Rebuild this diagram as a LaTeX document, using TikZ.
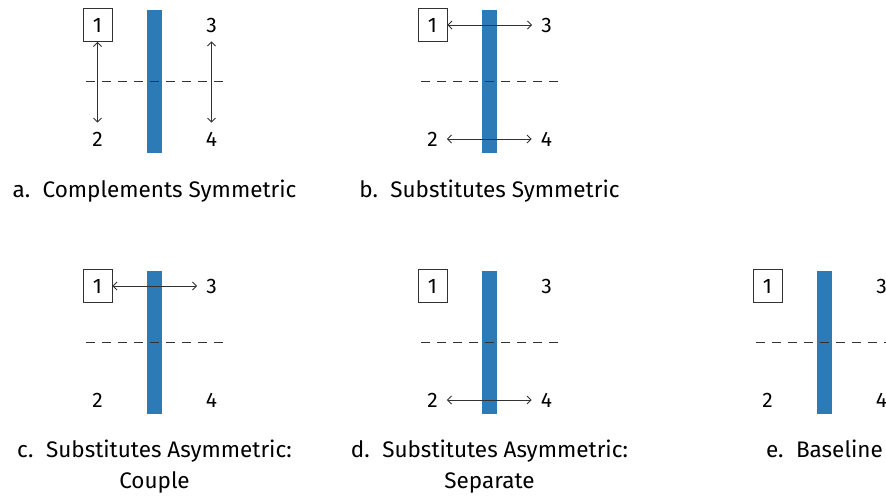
\documentclass[tikz,border=0pt]{standalone}
\usepackage{fontspec}
\setmainfont{Fira Sans}
\usetikzlibrary{arrows.meta}
\definecolor{barblue}{RGB}{44,123,182}
\definecolor{linegray}{RGB}{50,50,50}
\tikzset{
  barrect/.style={fill=barblue, draw=none},
  midline/.style={draw=linegray, line width=0.9pt, dash pattern=on 9pt off 7pt},
  boxnum/.style={draw=linegray, line width=0.9pt, minimum width=29pt, minimum height=33pt, inner sep=0pt, font=\fontsize{21}{21}\selectfont},
  plainnum/.style={inner sep=9pt, font=\fontsize{21}{21}\selectfont},
  link/.style={draw=linegray, line width=0.9pt, {Straight Barb[length=4pt,width=8pt]}-{Straight Barb[length=4pt,width=8pt]}},
  caplabel/.style={align=center, font=\fontsize{22.5}{31}\selectfont, inner sep=0pt, anchor=base},
}
\newcommand{\panelbase}{%
  \fill[barrect] (147,10) rectangle (162,153);
  \coordinate (dl) at (86,81);
  \coordinate (dr) at (222.7,81);
  \draw[midline] (dl) -- (dr);
  \node[boxnum] (n1) at (97.5,25) {1};
  \node[plainnum] (n3) at (211.5,25) {3};
  \node[plainnum] (n2) at (97.5,139) {2};
  \node[plainnum] (n4) at (211.5,139) {4};
}
\begin{document}
\begin{tikzpicture}[x=1pt,y=-1pt]
\useasboundingbox (0,0) rectangle (886,501);
\clip (0,0) rectangle (886,501);
% a
\begin{scope}[name prefix=a-]
  \panelbase
  \draw[link] (n1) -- (n2);
  \draw[link] (n3) -- (n4);
  \node[caplabel] (lab) at (154.5,197) {a.\hspace{0.2em} Complements Symmetric};
\end{scope}
% b
\begin{scope}[shift={(335,0)}, name prefix=b-]
  \panelbase
  \draw[link] (n1) -- (n3);
  \draw[link] (n2) -- (n4);
  \node[caplabel] (lab) at (154.5,197) {b.\hspace{0.2em} Substitutes Symmetric};
\end{scope}
% c
\begin{scope}[shift={(0,261)}, name prefix=c-]
  \panelbase
  \draw[link] (n1) -- (n3);
  \node[caplabel] (lab) at (154.5,227) {c.\hspace{0.2em} Substitutes Asymmetric:\\Couple};
\end{scope}
% d
\begin{scope}[shift={(335,261)}, name prefix=d-]
  \panelbase
  \draw[link] (n2) -- (n4);
  \node[caplabel] (lab) at (154.5,227) {d.\hspace{0.2em} Substitutes Asymmetric:\\Separate};
\end{scope}
% e
\begin{scope}[shift={(670,261)}, name prefix=e-]
  \panelbase
  \node[caplabel] (lab) at (154.5,196) {e.\hspace{0.2em} Baseline};
\end{scope}
\end{tikzpicture}
\end{document}
